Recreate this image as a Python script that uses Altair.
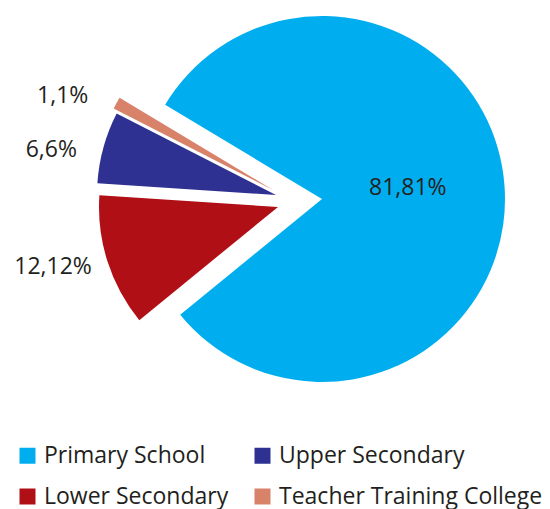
import altair as alt
import pandas as pd
import numpy as np

categories = ["Primary School", "Lower Secondary", "Upper Secondary", "Teacher Training College"]
values = [81.81, 12.12, 6.6, 1.1]
labels = ["81,81%", "12,12%", "6,6%", "1,1%"]
colors = ["#00AEEF", "#B00F16", "#2E3192", "#D8826A"]

start_deg = 301.0
vals = np.array(values)
frac = vals / vals.sum()
cum = np.cumsum(frac)
start = np.radians(start_deg) + (cum - frac) * 2 * np.pi
end = np.radians(start_deg) + cum * 2 * np.pi
df = pd.DataFrame({
    "category": categories,
    "value": values,
    "label": labels,
    "start": start,
    "end": end,
    "mid": (start + end) / 2,
})

# style: slice centre (px), radius, label radius, label dx, label dy
styles = {
    "Primary School": (314, 191, 183, 92, -6, -4),
    "Lower Secondary": (270, 199, 179, 232, -4, -11),
    "Upper Secondary": (268, 187, 179, 230, -3, 16),
    "Teacher Training College": (265, 182, 179, 228, -11, 17),
}

color = alt.Color(
    "category:N",
    scale=alt.Scale(domain=categories, range=colors),
    legend=alt.Legend(
        title=None, orient="none", legendX=8, legendY=436, columns=2,
        symbolType="square", symbolSize=256, symbolStrokeWidth=0,
        labelFont="Open Sans", labelFontSize=23, labelColor="#231F20",
        labelOffset=5, rowPadding=17, columnPadding=22, labelLimit=400,
    ),
)

base = alt.Chart(df)
layers = []
for cat in categories:
    cx, cy, r, lr, ldx, ldy = styles[cat]
    sub = base.transform_filter(alt.datum.category == cat)
    arc = sub.mark_arc(x=cx, y=cy, outerRadius=r, innerRadius=0).encode(
        theta=alt.Theta("start:Q", scale=None),
        theta2="end:Q",
        color=color,
    )
    txt = sub.mark_text(x=cx, y=cy, dx=ldx, dy=ldy, font="Open Sans", fontSize=23,
                        color="#231F20", align="center", baseline="middle").encode(
        theta=alt.Theta("mid:Q", scale=None),
        radius=alt.value(lr),
        text="label:N",
    )
    layers += [arc, txt]

chart = alt.layer(*layers).properties(
    width=534, height=501, padding=0, autosize=alt.AutoSizeParams(type="none")
).configure_view(stroke=None)

chart.save("out.html", embed_options={"renderer": "svg", "actions": False})
